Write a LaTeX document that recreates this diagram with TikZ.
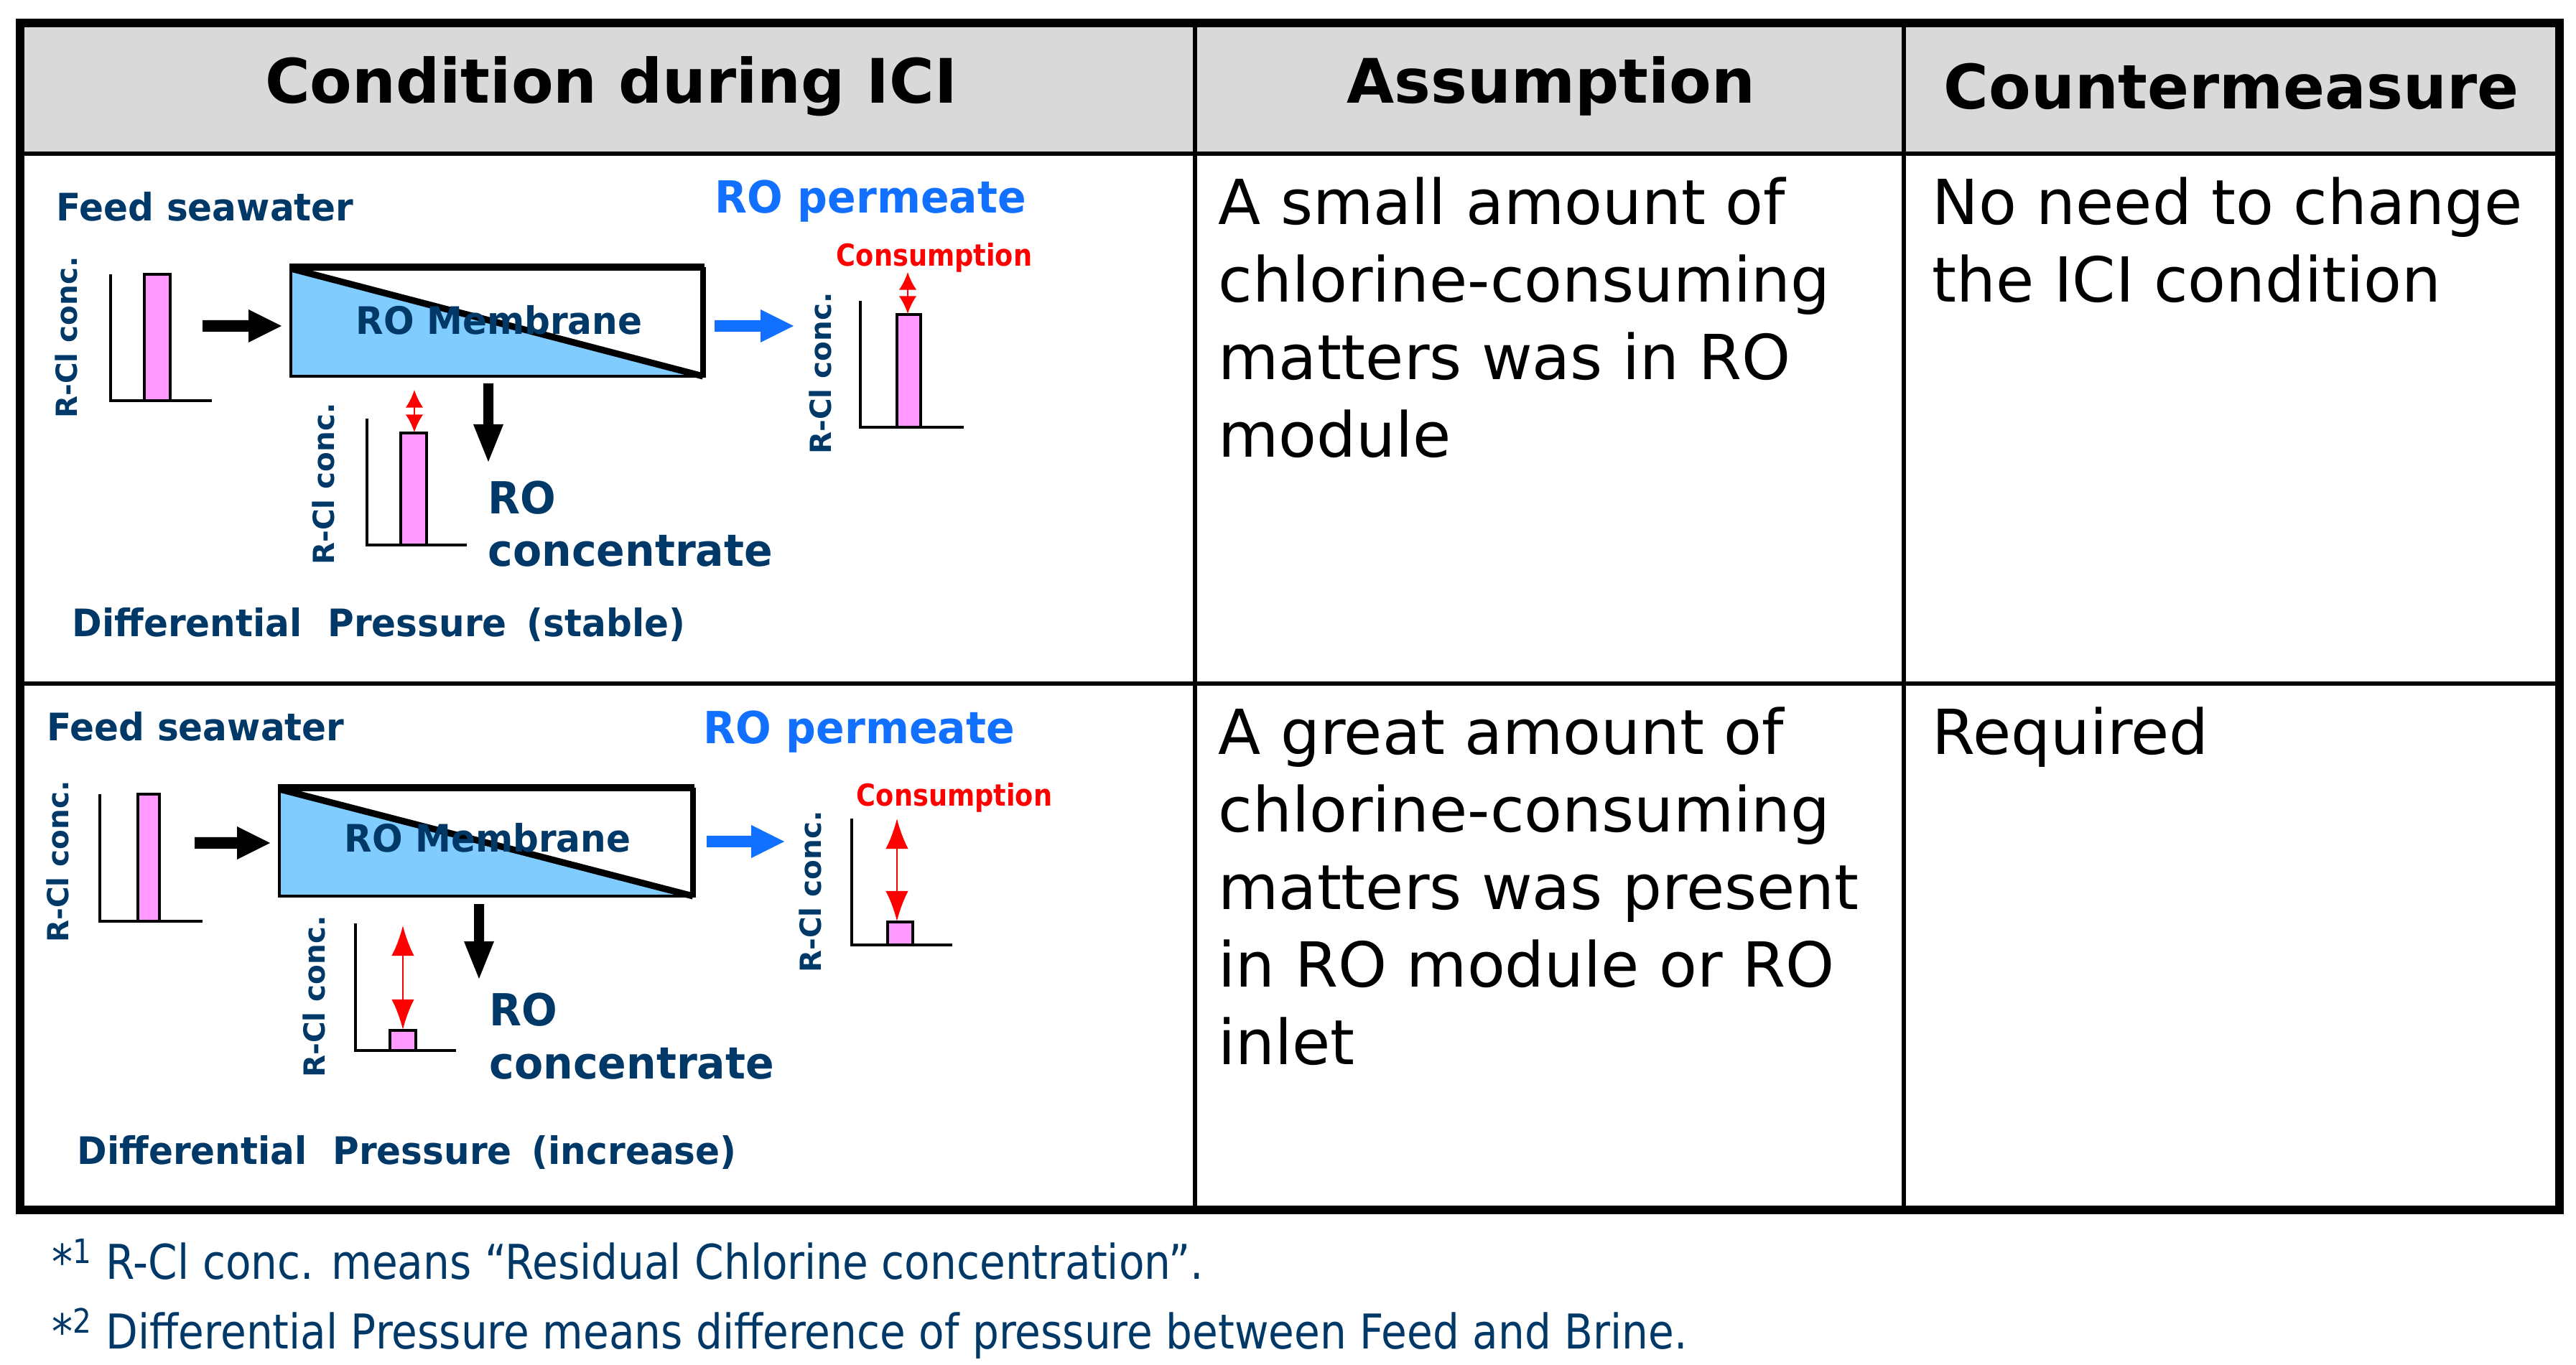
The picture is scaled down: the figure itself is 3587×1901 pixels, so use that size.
\documentclass[tikz,border=0pt]{standalone}
\usepackage{fontspec}
\setmainfont{DejaVu Sans}
\newfontfamily\cond{DejaVu Sans}[FakeStretch=0.87]
\newfontfamily\condl{DejaVu Sans}[FakeStretch=0.95]
\usetikzlibrary{arrows.meta}
\definecolor{navy}{RGB}{0,56,104}
\definecolor{roblue}{RGB}{17,112,255}
\definecolor{pinkbar}{RGB}{255,153,255}
\definecolor{lblue}{RGB}{128,204,255}
\definecolor{hgray}{RGB}{217,217,217}
\newcommand\myRA[4]{\fill[#4] (#1,{#3-8}) -- ({#2-46},{#3-8}) -- ({#2-46},{#3-23}) -- (#2,#3) -- ({#2-46},{#3+23}) -- ({#2-46},{#3+8}) -- (#1,{#3+8}) -- cycle;}
\newcommand\myDA[3]{\fill[black] ({#1-7},#2) -- ({#1-7},{#3-52}) -- ({#1-21},{#3-52}) -- (#1,#3) -- ({#1+21},{#3-52}) -- ({#1+7},{#3-52}) -- ({#1+7},#2) -- cycle;}
\newcommand\myCH[7]{\fill[pinkbar,draw=black,line width=1pt] (#5,#2) rectangle (#6,#3);
 \draw[line width=0.9pt] (#1,#2) -- (#1,#3) -- (#4,#3);}
\tikzset{
 lab/.style={font=\condl\bfseries\fontsize{17.5}{20}\selectfont,text=navy,inner sep=0pt,anchor=west},
 labs/.style={font=\condl\bfseries\fontsize{15}{18}\selectfont,text=navy,inner sep=0pt,anchor=west},
 rcl/.style={font=\bfseries\fontsize{11.5}{13}\selectfont,text=navy,inner sep=0pt,rotate=90},
 cons/.style={font=\cond\bfseries\fontsize{12}{14}\selectfont,text=red,inner sep=0pt},
 hdr/.style={font=\bfseries\fontsize{24.3}{30}\selectfont,inner sep=0pt},
 body/.style={font=\fontsize{24.6}{30.7}\selectfont,inner sep=0pt,anchor=north west,align=left},
 foot/.style={font=\cond\fontsize{19}{22}\selectfont,text=navy,inner sep=0pt,anchor=west},
 red2/.style={red,line width=0.8pt,{Latex[length=12,width=9]}-{Latex[length=12,width=9]}},
 red3/.style={red,line width=0.8pt,{Latex[length=7,width=7]}-{Latex[length=7,width=7]}}
}
\begin{document}
\begin{tikzpicture}[x=0.01cm,y=-0.01cm]
\useasboundingbox[fill=white] (0,0) rectangle (3587,1901);
% table
\fill[hgray] (28,32) rectangle (3564,214);
\draw[line width=1.5pt] (28,214) -- (3564,214);
\draw[line width=1.5pt] (28,952) -- (3564,952);
\draw[line width=1.5pt] (1664,32) -- (1664,1685);
\draw[line width=1.5pt] (2651,32) -- (2651,1685);
\draw[line width=3.2pt] (28,32) rectangle (3564,1685);
\node[hdr] (h1) at (851,120) {Condition during ICI};
\node[hdr] (h2) at (2160,120) {Assumption};
\node[hdr] (h3) at (3107,120) {Countermeasure};
\node[body] (a1) at (1696,246) {A small amount of\\chlorine-consuming\\matters was in RO\\module};
\node[body] (c1) at (2690,246) {No need to change\\the ICI condition};
\node[body] (a2) at (1696,984) {A great amount of\\chlorine-consuming\\matters was present\\in RO module or RO\\inlet};
\node[body] (c2) at (2690,984) {Required};
% ---- row 1
\fill[lblue] (405,372) -- (979,524) -- (405,524) -- cycle;
\draw[line width=0.9pt] (405,372) -- (405,524) -- (979,524);
\draw[line width=3pt] (403,372) -- (981,372);
\draw[line width=2.2pt] (979,372) -- (979,526);
\draw[line width=2.6pt] (405,374) -- (979,524);
\node[labs,anchor=center] (m1) at (695,446) {RO Membrane};
\node[labs] (fs1) at (78,288) {Feed seawater};
\node[lab,text=roblue] (rp1) at (995,280) {RO permeate};
\node[cons] (cs1) at (1301,359) {Consumption};
\myCH{154}{382}{558}{295}{201}{237}{}
\node[rcl] (y1) at (92,470) {R-Cl conc.};
\myRA{282}{392}{454}{black}
\myRA{995}{1105}{454}{roblue}
\myCH{1198}{438}{595}{1342}{1249}{1282}{}
\draw[line width=0.9pt] (1198,419) -- (1198,438);
\draw[red3] (1264,379) -- (1264,437);
\node[rcl] (y2) at (1142,520) {R-Cl conc.};
\myDA{680}{534}{643}
\myCH{511}{603}{759}{650}{558}{594}{}
\draw[line width=0.9pt] (511,583) -- (511,603);
\draw[red3] (577,543) -- (577,602);
\node[rcl] (y3) at (450,674) {R-Cl conc.};
\node[lab] (ro1) at (679,693) {RO};
\node[lab] (cc1) at (679,767) {concentrate};
\node[labs] (dp1) at (100,870) {Differential\hspace{0.35em} Pressure\hspace{0.2em} (stable)};
% ---- row 2
\fill[lblue] (389,1097) -- (965,1248) -- (389,1248) -- cycle;
\draw[line width=0.9pt] (389,1097) -- (389,1248) -- (965,1248);
\draw[line width=3pt] (387,1097) -- (967,1097);
\draw[line width=2.2pt] (965,1097) -- (965,1250);
\draw[line width=2.6pt] (389,1099) -- (965,1248);
\node[labs,anchor=center] (m2) at (679,1167) {RO Membrane};
\node[labs] (fs2) at (65,1012) {Feed seawater};
\node[lab,text=roblue] (rp2) at (979,1019) {RO permeate};
\node[cons] (cs2) at (1329,1111) {Consumption};
\myCH{139}{1106}{1283}{282}{192}{222}{}
\node[rcl] (y4) at (80,1200) {R-Cl conc.};
\myRA{271}{376}{1174}{black}
\myRA{984}{1092}{1172}{roblue}
\myCH{1186}{1284}{1316}{1326}{1236}{1271}{}
\draw[line width=0.9pt] (1186,1140) -- (1186,1284);
\draw[red2] (1249,1140) -- (1249,1283);
\node[rcl] (y5) at (1128,1242) {R-Cl conc.};
\myDA{667}{1259}{1363}
\myCH{495}{1435}{1463}{635}{543}{579}{}
\draw[line width=0.9pt] (495,1286) -- (495,1435);
\draw[red2] (561,1289) -- (561,1434);
\node[rcl] (y6) at (437,1388) {R-Cl conc.};
\node[lab] (ro2) at (681,1406) {RO};
\node[lab] (cc2) at (681,1481) {concentrate};
\node[labs] (dp2) at (107,1605) {Differential\hspace{0.35em} Pressure\hspace{0.2em} (increase)};
% footnotes
\node[foot] (f1) at (72,1754) {*\textsuperscript{1} R-Cl conc. means “Residual Chlorine concentration”.};
\node[foot] (f2) at (72,1857) {*\textsuperscript{2} Differential Pressure means difference of pressure between Feed and Brine.};
\end{tikzpicture}
\end{document}
